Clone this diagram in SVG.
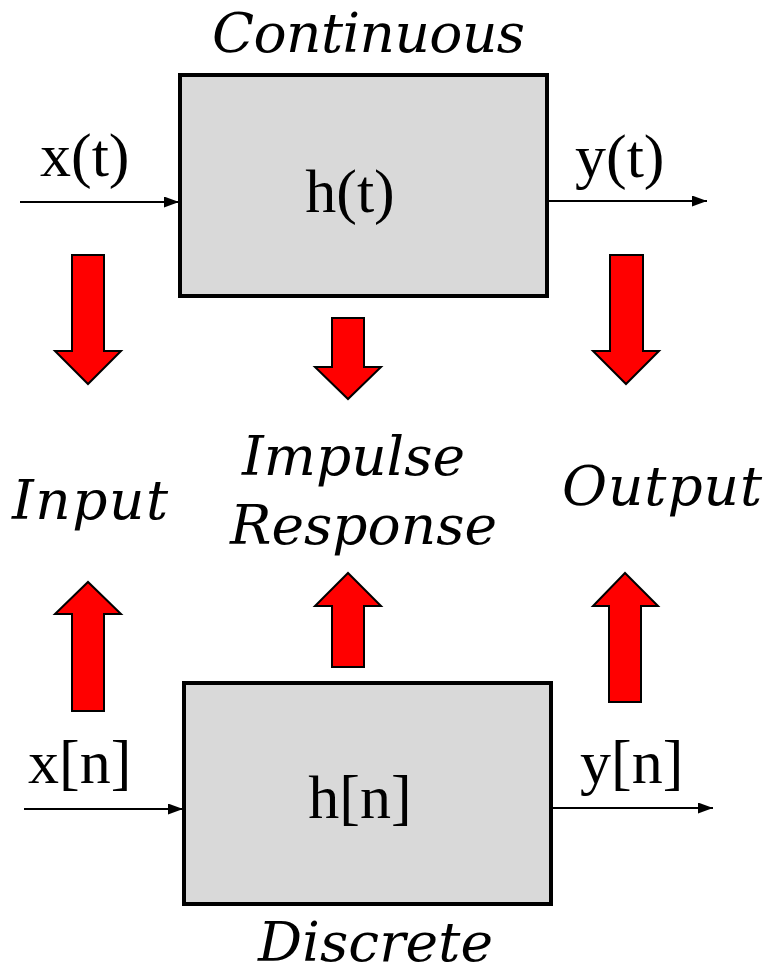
<svg xmlns="http://www.w3.org/2000/svg" width="767" height="975" viewBox="0 0 767 975">
<defs>
<style>
.box{fill:#d9d9d9;stroke:#000;stroke-width:4}
.sig{font-family:"Liberation Serif","Times New Roman",serif;font-size:62px;fill:#000}
.lab{font-family:"DejaVu Serif",serif;font-style:italic;font-size:55px;fill:#000}
.red{fill:#ff0000;stroke:#000;stroke-width:2;stroke-linejoin:miter}
.wire{stroke:#000;stroke-width:2;marker-end:url(#ah2)}
</style>
<marker id="ah2" viewBox="0 0 15 11" refX="15" refY="5.5" markerWidth="15" markerHeight="11" markerUnits="userSpaceOnUse" orient="auto">
<path d="M0,0 L15,5.5 L0,11 Z" fill="#000"/>
</marker>
</defs>
<rect width="767" height="975" fill="#fff"/>
<g id="connectors">
<line class="wire" x1="20" y1="202" x2="179" y2="202"/>
<line class="wire" x1="548" y1="201" x2="707" y2="201"/>
<line class="wire" x1="24" y1="809" x2="183" y2="809"/>
<line class="wire" x1="552" y1="808" x2="713" y2="808"/>
</g>
<g id="continuous-system">
<rect class="box" x="180" y="75" width="367" height="221"/>
<text class="sig" x="350" y="212" text-anchor="middle">h(t)</text>
</g>
<g id="discrete-system">
<rect class="box" x="184" y="683" width="367" height="221"/>
<text class="sig" x="360" y="818" text-anchor="middle">h[n]</text>
</g>
<g id="signal-labels">
<text class="sig" x="40" y="176">x(t)</text>
<text class="sig" x="575" y="177">y(t)</text>
<text class="sig" x="28" y="783">x[n]</text>
<text class="sig" x="580" y="783">y[n]</text>
</g>
<g id="titles">
<text class="lab" x="212" y="52" textLength="313" lengthAdjust="spacing">Continuous</text>
<text class="lab" x="258" y="961" font-size="53" textLength="235" lengthAdjust="spacing">Discrete</text>
</g>
<g id="category-labels">
<text class="lab" x="12" y="519" textLength="156" lengthAdjust="spacing">Input</text>
<text class="lab" x="242" y="475" textLength="223" lengthAdjust="spacing">Impulse</text>
<text class="lab" x="230" y="544" textLength="267" lengthAdjust="spacing">Response</text>
<text class="lab" x="562" y="505" textLength="200" lengthAdjust="spacing">Output</text>
</g>
<g id="red-arrows">
<path class="red" d="M72,255 H104 V351 H121 L88,384 L55,351 H72 Z"/>
<path class="red" d="M332,318 H364 V367 H381 L348,399 L315,367 H332 Z"/>
<path class="red" d="M610,255 H643 V351 H659 L626,384 L593,351 H610 Z"/>
<path class="red" d="M72,711 H104 V614 H121 L88,582 L55,614 H72 Z"/>
<path class="red" d="M332,667 H364 V606 H381 L348,573 L315,606 H332 Z"/>
<path class="red" d="M609,702 H641 V606 H658 L625,573 L593,606 H609 Z"/>
</g>
</svg>
